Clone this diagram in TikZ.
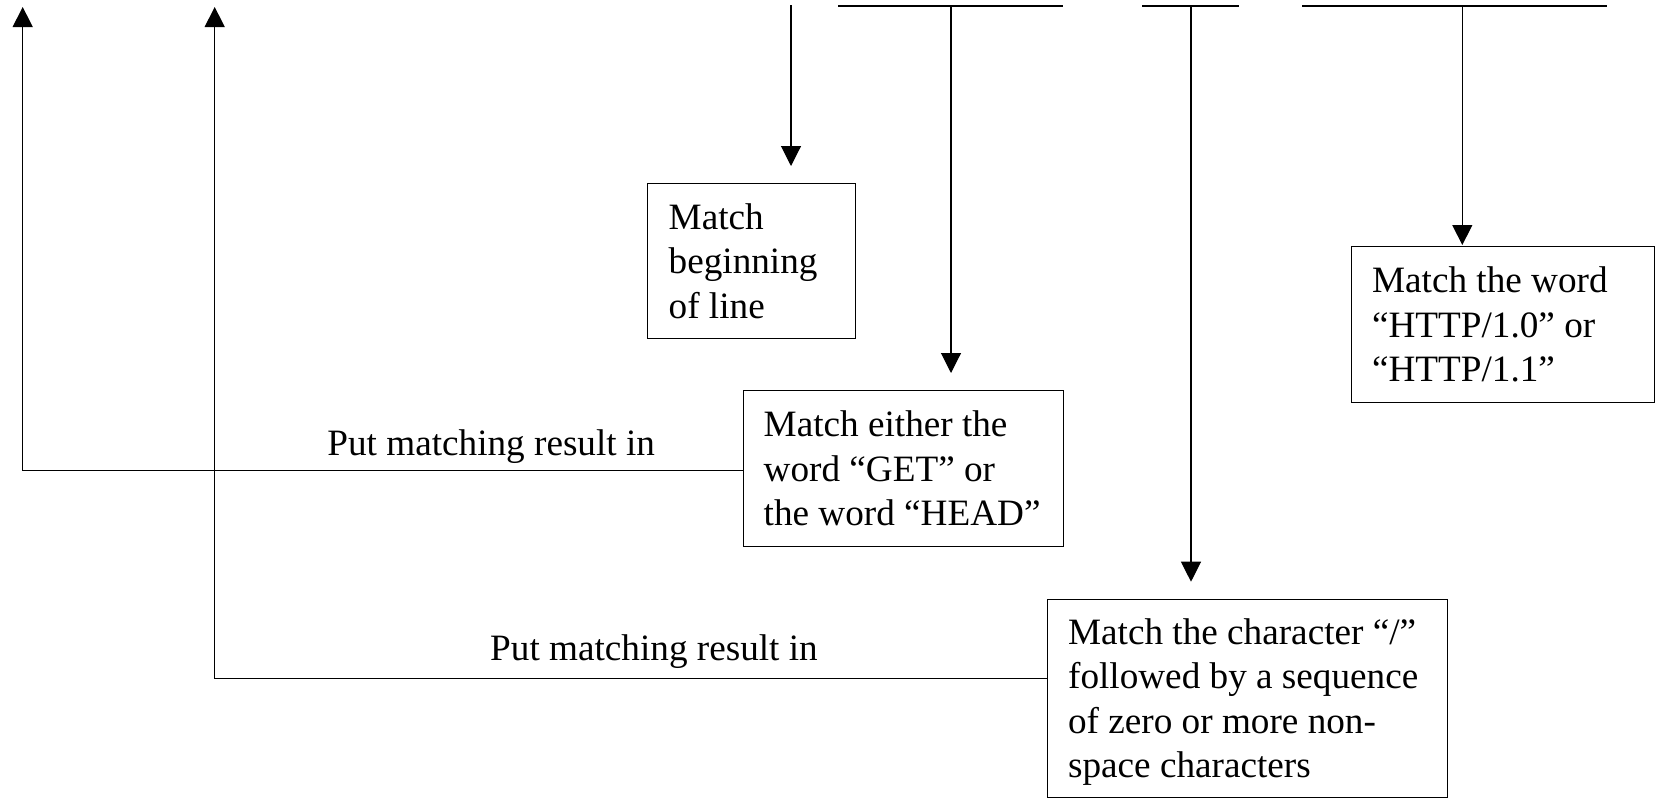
\documentclass[tikz,border=0pt]{standalone}
\usepackage{fontspec}
\setmainfont{Liberation Serif}
\usetikzlibrary{arrows.meta}
\begin{document}
\begin{tikzpicture}[x=0.5pt,y=-0.5pt,
  ln/.style={line width=0.55pt},
  arr/.style={ln,-{Triangle[length=10pt,width=10pt]}},
  boxnode/.style={draw,ln,anchor=north west,inner sep=0pt},
  txt/.style={anchor=base west,inner sep=0pt,text width=200pt,align=flush left,font=\fontsize{18.6pt}{22.25pt}\selectfont},
  lbl/.style={anchor=base,inner sep=0pt,font=\fontsize{18.6pt}{22.25pt}\selectfont}]
\useasboundingbox (0,0) rectangle (1655,798);

% boxes
\node[boxnode,minimum width=104.15pt,minimum height=77.5pt] (b1) at (646.7,182.7) {};
\node[boxnode,minimum width=160.3pt,minimum height=78pt] (b2) at (742.7,390) {};
\node[boxnode,minimum width=200pt,minimum height=99pt] (b3) at (1046.7,599) {};
\node[boxnode,minimum width=151.5pt,minimum height=77.85pt] (b4) at (1350.7,246) {};

% box texts
\node[txt] (t1) at (668.3,229) {Match\\beginning\\of line};
\node[txt] (t2) at (763.3,436.7) {Match either the\\word “GET” or\\the word “HEAD”};
\node[txt] (t3) at (1067.7,644.3) {Match the character “/”\\followed by a sequence\\of zero or more non-\\space characters};
\node[txt] (t4) at (1371.7,292.7) {Match the word\\“HTTP/1.0” or\\“HTTP/1.1”};

% labels
\node[lbl] (l1) at (491.2,455) {Put matching result in};
\node[lbl] (l2) at (654,660.7) {Put matching result in};

% top connectors
\coordinate (s1) at (791,5.3);
\draw[arr,shorten >=8.35pt] (s1) -- (s1 |- b1.north);

\coordinate (h1a) at (838.3,6);
\coordinate (h1b) at (1063,6);
\coordinate (v1) at (951,6);
\draw[ln] (h1a) -- (h1b);
\draw[arr,shorten >=8.5pt] (v1) -- (v1 |- b2.north);

\coordinate (h2a) at (1142,6);
\coordinate (h2b) at (1239,6);
\coordinate (v2) at (1191,6);
\draw[ln] (h2a) -- (h2b);
\draw[arr,shorten >=8.65pt] (v2) -- (v2 |- b3.north);

\coordinate (h3a) at (1302.3,6);
\coordinate (h3b) at (1607.3,6);
\coordinate (v3) at (1462.3,6);
\draw[ln] (h3a) -- (h3b);
\draw[arr,shorten >=0.5pt] (v3) -- (v3 |- b4.north);

% result connectors
\coordinate (u1) at (22.7,7);
\coordinate (u2) at (214.7,7);
\draw[arr] ([yshift=-1pt]b2.west) -| (u1);
\draw[arr] ([yshift=9.85pt]b3.west) -| (u2);
\end{tikzpicture}
\end{document}
